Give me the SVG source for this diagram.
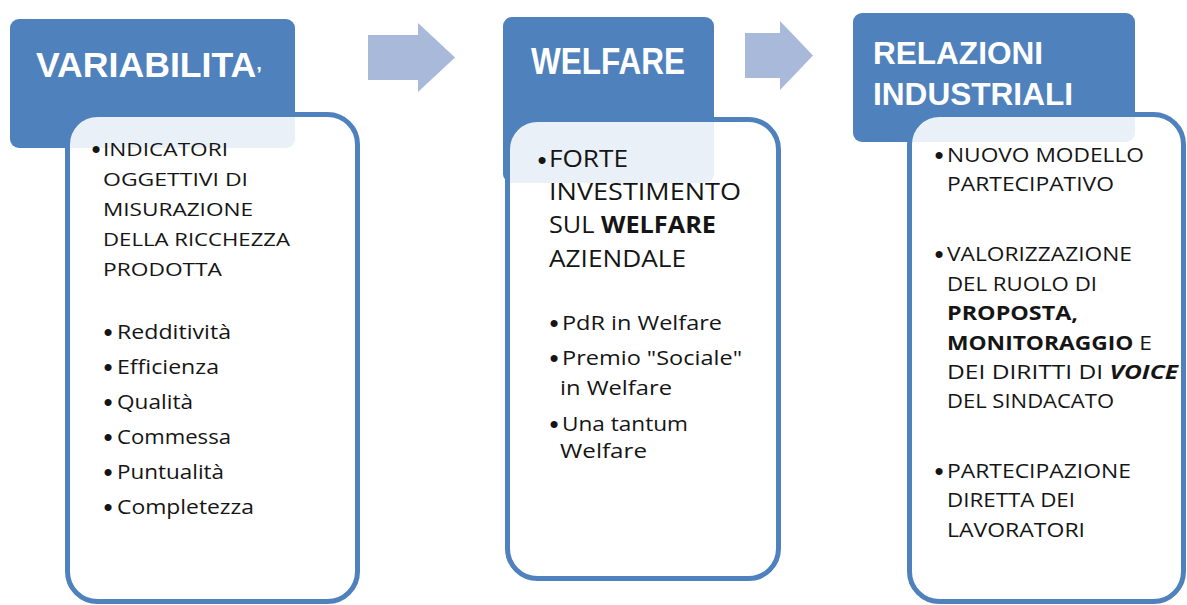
<svg xmlns="http://www.w3.org/2000/svg" width="1187" height="605" viewBox="0 0 1187 605">
<style>
.hdr{fill:#4F81BD}
.card{fill:#FFFFFF;fill-opacity:0.88;stroke:#4F81BD;stroke-width:5}
.ttl{font-family:"Liberation Sans",Arial,sans-serif;font-weight:bold;fill:#FFFFFF}
.t{font-family:"Open Sans","Liberation Sans",Arial,sans-serif;fill:#151515}
.u1{font-size:18.5px}
.u2{font-size:23px}
.u3{font-size:19.5px}
.l{font-size:20.5px}
.b{font-weight:bold}
.bi{font-weight:bold;font-style:italic}
.bul{text-anchor:middle;font-family:"Liberation Sans",Arial,sans-serif;fill:#151515;font-size:26px}
.arr{fill:#A8B9D9}
</style>
<rect width="1187" height="605" fill="#FFFFFF"/>
<g id="connectors">
<polygon class="arr" points="368,35 418,35 418,23 455,57.5 418,92 418,80 368,80"/>
<polygon class="arr" points="745,33 780,33 780,21 813,55.5 780,90 780,78 745,78"/>
</g>
<g id="node-variabilita">
<rect class="hdr" x="10" y="19" width="285" height="129" rx="9"/>
<text class="ttl" x="36" y="77" font-size="35" textLength="226" lengthAdjust="spacingAndGlyphs">VARIABILITA<tspan font-size="20" dy="4">’</tspan></text>
<rect class="card" x="67.5" y="114.5" width="290" height="487" rx="30"/>
<text class="bul" x="96" y="158">•</text>
<text class="t u1" x="103" y="156" textLength="125" lengthAdjust="spacingAndGlyphs">INDICATORI</text>
<text class="t u1" x="103" y="186" textLength="145" lengthAdjust="spacingAndGlyphs">OGGETTIVI  DI</text>
<text class="t u1" x="103" y="216" textLength="150" lengthAdjust="spacingAndGlyphs">MISURAZIONE</text>
<text class="t u1" x="103" y="246" textLength="187" lengthAdjust="spacingAndGlyphs">DELLA RICCHEZZA</text>
<text class="t u1" x="103" y="276" textLength="119" lengthAdjust="spacingAndGlyphs">PRODOTTA</text>
<text class="bul" x="108" y="341">•</text>
<text class="t l" x="117" y="339" textLength="114" lengthAdjust="spacingAndGlyphs">Redditività</text>
<text class="bul" x="108" y="376">•</text>
<text class="t l" x="117" y="374" textLength="102" lengthAdjust="spacingAndGlyphs">Efficienza</text>
<text class="bul" x="108" y="411">•</text>
<text class="t l" x="117" y="409" textLength="76" lengthAdjust="spacingAndGlyphs">Qualità</text>
<text class="bul" x="108" y="446">•</text>
<text class="t l" x="117" y="444" textLength="114" lengthAdjust="spacingAndGlyphs">Commessa</text>
<text class="bul" x="108" y="481">•</text>
<text class="t l" x="117" y="479" textLength="107" lengthAdjust="spacingAndGlyphs">Puntualità</text>
<text class="bul" x="108" y="516">•</text>
<text class="t l" x="117" y="514" textLength="137" lengthAdjust="spacingAndGlyphs">Completezza</text>
</g>
<g id="node-welfare">
<rect class="hdr" x="503" y="17" width="211" height="166" rx="9"/>
<text class="ttl" x="531" y="74" font-size="37" textLength="154" lengthAdjust="spacingAndGlyphs">WELFARE</text>
<rect class="card" x="507.5" y="119.5" width="271" height="459" rx="30"/>
<text class="bul" x="542" y="169">•</text>
<text class="t u2" x="549" y="167" textLength="79" lengthAdjust="spacingAndGlyphs">FORTE</text>
<text class="t u2" x="549" y="200" textLength="192" lengthAdjust="spacingAndGlyphs">INVESTIMENTO</text>
<text class="t u2" x="549" y="233" textLength="167" lengthAdjust="spacingAndGlyphs">SUL <tspan class="b">WELFARE</tspan></text>
<text class="t u2" x="549" y="267" textLength="137" lengthAdjust="spacingAndGlyphs">AZIENDALE</text>
<text class="bul" x="554" y="332">•</text>
<text class="t l" x="562" y="330" textLength="160" lengthAdjust="spacingAndGlyphs">PdR in Welfare</text>
<text class="bul" x="554" y="367">•</text>
<text class="t l" x="562" y="365" textLength="180" lengthAdjust="spacingAndGlyphs">Premio "Sociale"</text>
<text class="t l" x="560" y="395" textLength="112" lengthAdjust="spacingAndGlyphs">in Welfare</text>
<text class="bul" x="554" y="433">•</text>
<text class="t l" x="562" y="431" textLength="126" lengthAdjust="spacingAndGlyphs">Una tantum</text>
<text class="t l" x="560" y="458" textLength="87" lengthAdjust="spacingAndGlyphs">Welfare</text>
</g>
<g id="node-relazioni">
<rect class="hdr" x="853" y="13" width="282" height="129" rx="9"/>
<text class="ttl" x="873" y="64" font-size="31" textLength="170" lengthAdjust="spacingAndGlyphs">RELAZIONI</text>
<text class="ttl" x="873" y="105" font-size="31" textLength="200" lengthAdjust="spacingAndGlyphs">INDUSTRIALI</text>
<rect class="card" x="909.5" y="114.5" width="274" height="487" rx="30"/>
<text class="bul" x="939" y="164">•</text>
<text class="t u3" x="947" y="162" textLength="197" lengthAdjust="spacingAndGlyphs">NUOVO MODELLO</text>
<text class="t u3" x="947" y="191" textLength="167" lengthAdjust="spacingAndGlyphs">PARTECIPATIVO</text>
<text class="bul" x="939" y="263">•</text>
<text class="t u3" x="947" y="261" textLength="185" lengthAdjust="spacingAndGlyphs">VALORIZZAZIONE</text>
<text class="t u3" x="947" y="291" textLength="150" lengthAdjust="spacingAndGlyphs">DEL RUOLO DI</text>
<text class="t u3 b" x="947" y="320" textLength="131" lengthAdjust="spacingAndGlyphs">PROPOSTA,</text>
<text class="t u3" x="947" y="350" textLength="205" lengthAdjust="spacingAndGlyphs"><tspan class="b">MONITORAGGIO</tspan> E</text>
<text class="t u3" x="947" y="379" textLength="231" lengthAdjust="spacingAndGlyphs">DEI DIRITTI  DI <tspan class="bi">VOICE</tspan></text>
<text class="t u3" x="947" y="408" textLength="167" lengthAdjust="spacingAndGlyphs">DEL SINDACATO</text>
<text class="bul" x="939" y="480">•</text>
<text class="t u3" x="947" y="478" textLength="184" lengthAdjust="spacingAndGlyphs">PARTECIPAZIONE</text>
<text class="t u3" x="947" y="507" textLength="128" lengthAdjust="spacingAndGlyphs">DIRETTA  DEI</text>
<text class="t u3" x="947" y="537" textLength="138" lengthAdjust="spacingAndGlyphs">LAVORATORI</text>
</g>
</svg>
